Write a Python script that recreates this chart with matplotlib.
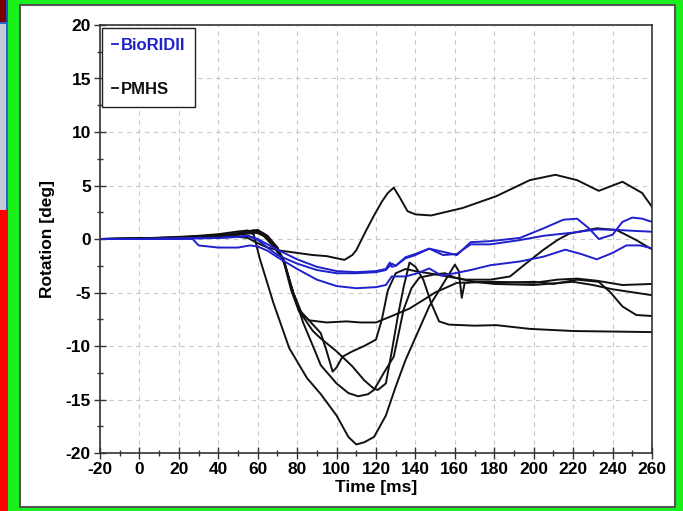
import matplotlib
matplotlib.use("Agg")
import matplotlib.pyplot as plt
from matplotlib.patches import Rectangle
from matplotlib.lines import Line2D

plt.rcParams['font.family'] = ['Liberation Sans', 'DejaVu Sans']

# ---------------- data ----------------
bio1_t = [-20, 0, 20, 30, 40, 50, 55, 60, 65, 70, 80, 90, 100, 110, 120, 125, 127, 128, 130, 135, 140, 147, 154, 161, 168, 178, 193, 205, 215, 222, 228, 233, 240, 245, 250, 255, 260]
bio1_y = [0, 0, 0.05, 0.1, 0.1, 0.2, 0.3, 0.0, -0.5, -1.0, -1.9, -2.6, -3.0, -3.1, -3.0, -2.8, -2.2, -2.6, -2.5, -1.8, -1.5, -0.9, -1.2, -1.5, -0.3, -0.2, 0.1, 1.0, 1.8, 1.9, 1.0, 0.0, 0.4, 1.6, 2.0, 1.9, 1.6]

bio2_t = [-20, 0, 20, 30, 40, 50, 55, 60, 65, 70, 80, 90, 100, 110, 120, 125, 128, 130, 135, 140, 147, 154, 161, 168, 178, 193, 205, 220, 232, 242, 252, 260]
bio2_y = [0, 0, 0.05, 0.05, 0.1, 0.2, 0.3, -0.1, -0.8, -1.5, -2.3, -2.9, -3.2, -3.2, -3.1, -2.9, -2.3, -2.5, -1.7, -1.4, -0.9, -1.5, -1.4, -0.5, -0.5, -0.1, 0.3, 0.6, 0.9, 0.85, 0.75, 0.68]

bio3_t = [-20, 0, 20, 27, 30, 40, 50, 56, 60, 65, 70, 80, 90, 100, 110, 120, 125, 128, 135, 141, 147, 153, 160, 168, 178, 193, 205, 216, 224, 232, 240, 247, 254, 260]
bio3_y = [0, 0, 0, 0, -0.6, -0.8, -0.8, -0.6, -0.7, -1.1, -1.7, -2.8, -3.8, -4.4, -4.6, -4.5, -4.3, -3.5, -3.5, -3.2, -2.75, -3.4, -3.2, -2.9, -2.45, -2.1, -1.65, -1.0, -1.4, -1.9, -1.3, -0.6, -0.6, -0.87]

p1_t = [-20, 0, 20, 40, 50, 55, 60, 65, 72, 80, 88, 95, 100, 104, 108, 110, 115, 119, 123, 126, 129, 132, 136, 140, 148, 164, 181, 198, 211, 222, 233, 245, 255, 260]
p1_y = [0, 0.05, 0.1, 0.2, 0.2, 0.1, -0.4, -0.8, -1.1, -1.3, -1.5, -1.6, -1.8, -1.95, -1.5, -1.05, 0.8, 2.2, 3.5, 4.3, 4.8, 3.9, 2.6, 2.3, 2.2, 2.9, 4.0, 5.5, 6.0, 5.5, 4.5, 5.35, 4.3, 3.0]

p2_t = [-20, 0, 20, 30, 40, 50, 55, 58, 61, 68, 76, 85, 92, 100, 106, 110, 114, 119, 125, 130, 135, 141, 147, 154, 160, 162, 163.5, 165, 170, 180, 200, 210, 222, 233, 239, 245, 252, 260]
p2_y = [0, 0.05, 0.2, 0.3, 0.45, 0.7, 0.8, 0.4, -1.8, -6.0, -10.2, -13.0, -14.5, -16.5, -18.5, -19.2, -19.0, -18.5, -16.5, -13.8, -11.3, -8.8, -6.3, -4.2, -2.4, -3.0, -5.5, -4.1, -4.0, -4.1, -4.0, -4.2, -3.8, -4.0, -5.0, -6.3, -7.1, -7.2]

p3_t = [-20, 0, 20, 40, 50, 58, 63, 68, 73, 77, 82, 88, 92, 100, 108, 114, 119, 121, 125, 128, 131, 134, 137, 140, 144, 148, 152, 157, 170, 181, 198, 220, 240, 260]
p3_y = [0, 0.05, 0.15, 0.35, 0.55, 0.8, 0.5, -0.5, -1.8, -4.5, -7.0, -8.6, -9.3, -10.5, -11.9, -13.2, -14.0, -14.1, -13.5, -10.5, -7.3, -4.5, -2.2, -2.6, -3.8, -6.0, -7.7, -8.0, -8.1, -8.05, -8.4, -8.6, -8.65, -8.7]

p4_t = [-20, 0, 20, 40, 50, 56, 60, 65, 70, 74, 78, 83, 88, 92, 100, 106, 111, 116, 119, 124, 129, 134, 138, 142, 150, 155, 160, 170, 180, 200, 220, 230, 240, 260]
p4_y = [0, 0.05, 0.15, 0.3, 0.5, 0.75, 0.85, 0.3, -0.8, -2.5, -5.0, -7.8, -10.0, -11.8, -13.5, -14.4, -14.7, -14.5, -14.1, -12.5, -11.0, -6.6, -4.6, -3.6, -3.3, -3.2, -3.6, -4.0, -4.2, -4.3, -4.0, -4.3, -4.7, -5.25]

p5_t = [-20, 0, 20, 40, 50, 55, 60, 65, 70, 74, 78, 82, 88, 92, 95, 98, 100, 103, 108, 114, 120, 123, 126, 130, 135, 140, 150, 165, 178, 188, 196, 205, 212, 218, 232, 242, 252, 260]
p5_y = [0, 0.05, 0.1, 0.25, 0.4, 0.5, 0.6, 0.1, -0.8, -2.5, -5.0, -6.8, -8.0, -8.8, -10.5, -12.4, -12.0, -11.0, -10.5, -10.0, -9.4, -7.5, -4.8, -3.2, -2.8, -3.0, -3.3, -3.8, -3.8, -3.5, -2.3, -1.0, -0.1, 0.5, 1.0, 0.84, -0.1, -0.97]

p6_t = [-20, 0, 20, 40, 50, 58, 63, 68, 73, 77, 81, 86, 95, 105, 112, 120, 128, 137, 144, 150, 161, 180, 200, 212, 222, 232, 245, 260]
p6_y = [0, 0.05, 0.1, 0.25, 0.4, 0.7, 0.3, -0.7, -2.0, -4.8, -6.8, -7.6, -7.8, -7.7, -7.8, -7.8, -7.2, -6.5, -5.7, -5.0, -4.1, -4.0, -4.1, -3.8, -3.7, -3.9, -4.3, -4.2]

bio_series = [(bio1_t, bio1_y), (bio2_t, bio2_y), (bio3_t, bio3_y)]
pmhs_series = [(p1_t, p1_y), (p2_t, p2_y), (p3_t, p3_y), (p4_t, p4_y), (p5_t, p5_y), (p6_t, p6_y)]

legend_labels = ["BioRIDII", "PMHS"]
x_ticks = list(range(-20, 261, 20))
y_ticks = list(range(-20, 21, 5))

BLUE = "#2020cc"
BLACK = "#111111"

# ---------------- figure ----------------
W, H = 683, 511
fig = plt.figure(figsize=(W / 100, H / 100), dpi=100)
fig.patch.set_facecolor("#19f01c")

def frect(x0, y0, w, h, **kw):
    # pixel coordinates from top-left
    fig.patches.append(Rectangle((x0 / W, 1 - (y0 + h) / H), w / W, h / H,
                                 transform=fig.transFigure, figure=fig,
                                 zorder=-10, **kw))

# left strips
frect(0, 0, 6, 23, facecolor="#7a0000", edgecolor="none")
frect(6, 0, 2, 23, facecolor="#1e50c8", edgecolor="none")
frect(0, 22, 8, 2, facecolor="#1e64d2", edgecolor="none")
frect(0, 24, 8, 186, facecolor="#c8c8d6", edgecolor="none")
frect(6, 24, 2, 186, facecolor="#1e64d2", edgecolor="none")
frect(0, 210, 8, 301, facecolor="#ff0000", edgecolor="none")
# white panel with gray border
frect(20, 5, 655, 502, facecolor="white", edgecolor="#555555", linewidth=1.5)

ax = fig.add_axes([100 / W, 1 - 453 / H, 552 / W, 428 / H])
ax.set_facecolor("white")

for t, y in pmhs_series:
    ax.plot(t, y, color=BLACK, lw=1.4, solid_joinstyle="round")
for t, y in bio_series:
    ax.plot(t, y, color=BLUE, lw=1.4, solid_joinstyle="round")

ax.set_xlim(-20, 260)
ax.set_ylim(-20, 20)
ax.set_xticks(x_ticks)
ax.set_yticks(y_ticks)
ax.set_xticks(list(range(-10, 260, 20)), minor=True)
ax.set_yticks([v + 2.5 for v in range(-20, 20, 5)], minor=True)
ax.set_xticklabels([str(v) for v in x_ticks])
ax.set_yticklabels([str(v) for v in y_ticks])

ax.grid(True, which="major", color="#c8c8c8", linestyle=(0, (4, 4)), linewidth=0.8)
ax.set_axisbelow(True)

ax.tick_params(axis="both", which="major", direction="inout", length=9, width=1.0,
               color="#333333", labelsize=12.5, pad=2)
ax.tick_params(axis="both", which="minor", direction="inout", length=5, width=1.0,
               color="#333333")
ax.tick_params(top=False, right=False, which="both")
for lab in ax.get_xticklabels() + ax.get_yticklabels():
    lab.set_fontweight("bold")
for s in ax.spines.values():
    s.set_color("#333333")
    s.set_linewidth(1.2)

ax.set_xlabel("Time [ms]", fontsize=12.5, fontweight="bold", labelpad=2)
ax.set_ylabel("Rotation [deg]", fontsize=12.5, fontweight="bold", labelpad=8)

handles = [Line2D([0], [0], color=BLUE, lw=1.3), Line2D([0], [0], color=BLACK, lw=1.3)]
leg = ax.legend(handles, legend_labels, loc="upper left", bbox_to_anchor=(0.004, 0.994),
                handlelength=0.35, handletextpad=0.15, labelspacing=1.75,
                borderpad=0.6, borderaxespad=0, fancybox=False, framealpha=1,
                edgecolor="#222222", prop={"weight": "bold", "size": 12},
                labelcolor=[BLUE, BLACK])
leg.get_frame().set_linewidth(1.0)

fig.savefig("out.png", dpi=100, facecolor=fig.get_facecolor())
